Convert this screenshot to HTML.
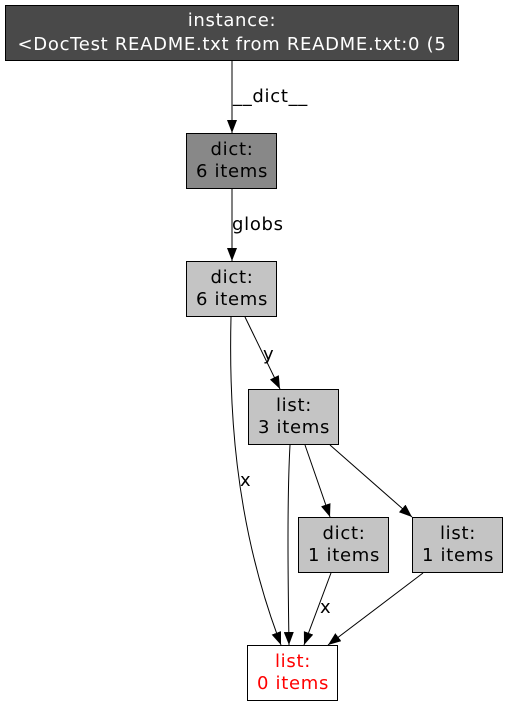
<!DOCTYPE html>
<html><head><meta charset="utf-8"><style>
html,body{margin:0;padding:0;background:#fff;}
svg{display:block;}
text{font-family:"DejaVu Sans","Liberation Sans",sans-serif;font-size:18px;letter-spacing:0.7px;text-anchor:middle;}
.l{text-anchor:start;}
</style></head><body>
<svg width="509" height="707" viewBox="0 0 509 707" xmlns="http://www.w3.org/2000/svg">
<defs>
<marker id="a" markerWidth="13" markerHeight="10" refX="13" refY="5" orient="auto" markerUnits="userSpaceOnUse">
<path d="M0,0 L13,5 L0,10 Z" fill="#000"/>
</marker>
</defs>
<g fill="none" stroke="#000" stroke-width="1">
<path d="M232,61 L232,133" marker-end="url(#a)"/>
<path d="M232,189 L232,261" marker-end="url(#a)"/>
<path d="M231,317 C229,400 233,520 281,645" marker-end="url(#a)"/>
<path d="M245,317 L280,389" marker-end="url(#a)"/>
<path d="M290,445 C287,500 288,580 289,645" marker-end="url(#a)"/>
<path d="M305,445 L330,517" marker-end="url(#a)"/>
<path d="M330,445 L412,517" marker-end="url(#a)"/>
<path d="M331,573 L304,645" marker-end="url(#a)"/>
<path d="M423,573 L328,645" marker-end="url(#a)"/>
</g>
<g stroke="#000" stroke-width="1">
<rect x="5.5" y="5.5" width="453" height="55" fill="#494949"/>
<rect x="186.5" y="133.5" width="90" height="55" fill="#888888"/>
<rect x="186.5" y="261.5" width="90" height="55" fill="#c4c4c4"/>
<rect x="248.5" y="389.5" width="90" height="55" fill="#c4c4c4"/>
<rect x="298.5" y="517.5" width="90" height="55" fill="#c4c4c4"/>
<rect x="412.5" y="517.5" width="90" height="55" fill="#c4c4c4"/>
<rect x="247.5" y="645.5" width="90" height="55" fill="#ffffff"/>
</g>
<text x="232" y="26" fill="#fff">instance:</text>
<text x="232" y="50" fill="#fff">&lt;DocTest README.txt from README.txt:0 (5</text>
<text x="232" y="155">dict:</text><text x="232" y="177">6 items</text>
<text x="232" y="283">dict:</text><text x="232" y="305">6 items</text>
<text x="294" y="411">list:</text><text x="294" y="433">3 items</text>
<text x="344" y="539">dict:</text><text x="344" y="561">1 items</text>
<text x="458" y="539">list:</text><text x="458" y="561">1 items</text>
<text x="293" y="667" fill="#ff0000">list:</text><text x="293" y="689" fill="#ff0000">0 items</text>
<text class="l" x="233" y="102">__dict__</text>
<text class="l" x="232" y="230">globs</text>
<text class="l" x="263" y="360">y</text>
<text class="l" x="240" y="486">x</text>
<text class="l" x="320" y="613">x</text>
</svg>
</body></html>
